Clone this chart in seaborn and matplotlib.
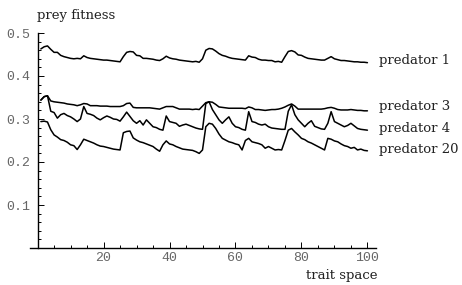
import numpy as np
import pandas as pd
import matplotlib
matplotlib.use("Agg")
import matplotlib.pyplot as plt
from matplotlib.ticker import MultipleLocator
import seaborn as sns

# ---- data ----
trait = list(range(1, 101))

pred1 = [0.463, 0.468, 0.470, 0.462, 0.455, 0.455, 0.448, 0.445, 0.443, 0.441,
         0.440, 0.441, 0.440, 0.447, 0.443, 0.441, 0.440, 0.439, 0.438, 0.437,
         0.437, 0.436, 0.435, 0.434, 0.433, 0.445, 0.455, 0.457, 0.456, 0.448,
         0.447, 0.441, 0.441, 0.440, 0.439, 0.437, 0.436, 0.440, 0.446, 0.442,
         0.440, 0.439, 0.437, 0.436, 0.435, 0.434, 0.433, 0.434, 0.432, 0.440,
         0.460, 0.464, 0.463, 0.458, 0.452, 0.448, 0.446, 0.443, 0.441, 0.440,
         0.439, 0.438, 0.437, 0.447, 0.444, 0.443, 0.439, 0.437, 0.437, 0.436,
         0.436, 0.433, 0.434, 0.432, 0.445, 0.457, 0.459, 0.456, 0.449, 0.448,
         0.444, 0.441, 0.440, 0.439, 0.438, 0.437, 0.437, 0.441, 0.445, 0.440,
         0.438, 0.436, 0.436, 0.435, 0.434, 0.433, 0.433, 0.432, 0.432, 0.431]

pred3 = [0.344, 0.352, 0.354, 0.342, 0.340, 0.339, 0.338, 0.337, 0.335, 0.334,
         0.333, 0.331, 0.333, 0.336, 0.335, 0.331, 0.331, 0.331, 0.330, 0.330,
         0.330, 0.329, 0.329, 0.329, 0.329, 0.331, 0.336, 0.337, 0.327, 0.326,
         0.326, 0.326, 0.326, 0.326, 0.325, 0.324, 0.323, 0.326, 0.329, 0.329,
         0.329, 0.326, 0.323, 0.323, 0.323, 0.323, 0.322, 0.323, 0.322, 0.330,
         0.338, 0.340, 0.339, 0.334, 0.328, 0.327, 0.326, 0.325, 0.325, 0.325,
         0.325, 0.325, 0.324, 0.328, 0.326, 0.322, 0.322, 0.321, 0.320, 0.321,
         0.322, 0.322, 0.323, 0.325, 0.328, 0.332, 0.335, 0.330, 0.323, 0.323,
         0.323, 0.323, 0.323, 0.323, 0.323, 0.323, 0.324, 0.326, 0.327, 0.325,
         0.322, 0.321, 0.321, 0.321, 0.322, 0.321, 0.320, 0.320, 0.319, 0.319]

pred4 = [0.344, 0.352, 0.354, 0.318, 0.315, 0.302, 0.310, 0.313, 0.308, 0.305,
         0.300, 0.294, 0.300, 0.329, 0.313, 0.311, 0.308, 0.302, 0.298, 0.303,
         0.307, 0.304, 0.300, 0.299, 0.295, 0.305, 0.316, 0.306, 0.296, 0.290,
         0.296, 0.286, 0.298, 0.290, 0.282, 0.280, 0.276, 0.274, 0.307, 0.294,
         0.292, 0.290, 0.283, 0.286, 0.288, 0.285, 0.282, 0.279, 0.277, 0.276,
         0.336, 0.340, 0.322, 0.310, 0.298, 0.290, 0.298, 0.305, 0.290, 0.282,
         0.280, 0.276, 0.274, 0.317, 0.294, 0.292, 0.288, 0.286, 0.288, 0.282,
         0.279, 0.278, 0.277, 0.276, 0.276, 0.318, 0.333, 0.310, 0.298, 0.290,
         0.282, 0.290, 0.296, 0.283, 0.280, 0.277, 0.276, 0.290, 0.317, 0.294,
         0.290, 0.286, 0.282, 0.285, 0.290, 0.284, 0.278, 0.276, 0.275, 0.274]

pred20 = [0.294, 0.295, 0.293, 0.275, 0.263, 0.258, 0.252, 0.250, 0.246, 0.240,
          0.238, 0.229, 0.240, 0.253, 0.250, 0.247, 0.244, 0.240, 0.237, 0.236,
          0.234, 0.232, 0.230, 0.229, 0.228, 0.268, 0.271, 0.272, 0.256, 0.251,
          0.247, 0.245, 0.242, 0.239, 0.236, 0.230, 0.225, 0.240, 0.249, 0.242,
          0.240, 0.236, 0.233, 0.230, 0.229, 0.228, 0.227, 0.224, 0.220, 0.228,
          0.282, 0.290, 0.288, 0.278, 0.265, 0.255, 0.251, 0.247, 0.245, 0.242,
          0.240, 0.228, 0.250, 0.255, 0.247, 0.245, 0.243, 0.240, 0.232, 0.236,
          0.232, 0.228, 0.229, 0.228, 0.250, 0.274, 0.278, 0.270, 0.263, 0.255,
          0.252, 0.247, 0.244, 0.240, 0.236, 0.232, 0.228, 0.255, 0.253, 0.249,
          0.247, 0.242, 0.238, 0.236, 0.232, 0.234, 0.228, 0.230, 0.227, 0.226]

series_names = ["predator 1", "predator 3", "predator 4", "predator 20"]
label_offsets = [0.004, 0.009, 0.003, 0.002]

sns.set_style("white")
plt.rcParams["font.family"] = ["DejaVu Serif"]

df = pd.concat([
    pd.DataFrame({"trait": trait, "fitness": vals, "series": name})
    for name, vals in zip(series_names, [pred1, pred3, pred4, pred20])
])

fig = plt.figure(figsize=(4.62, 2.85), dpi=100)
ax = fig.add_axes([30 / 462, 37 / 285, 346 / 462, 215 / 285])

sns.lineplot(data=df, x="trait", y="fitness", hue="series",
             palette=["black"] * 4, linewidth=1.1, legend=False, ax=ax)

ax.set_xlim(-2.3, 102.6)
ax.set_ylim(0, 0.5)
ax.set_xlabel("")
ax.set_ylabel("")

for s in ["top", "right"]:
    ax.spines[s].set_visible(False)
ax.spines["left"].set_position(("data", 0))
ax.spines["left"].set_bounds(0, 0.5)
for s in ["left", "bottom"]:
    ax.spines[s].set_linewidth(1.0)
    ax.spines[s].set_color("black")

ax.xaxis.set_minor_locator(MultipleLocator(5))
ax.yaxis.set_minor_locator(MultipleLocator(0.02))
ax.set_xticks([20, 40, 60, 80, 100])
ax.set_yticks([0.1, 0.2, 0.3, 0.4, 0.5])
ax.set_yticklabels(["0.1", "0.2", "0.3", "0.4", "0.5"])

ax.tick_params(which="both", direction="in", color="black", width=0.7,
               bottom=True, left=True)
ax.tick_params(which="major", length=4)
ax.tick_params(which="minor", length=2)
ax.tick_params(axis="x", pad=3)
ax.tick_params(axis="y", pad=5)
for lab in ax.get_xticklabels() + ax.get_yticklabels():
    lab.set_family(["Liberation Mono", "DejaVu Sans Mono"])
    lab.set_fontsize(9.5)
    lab.set_color("#666666")

for name, vals, off in zip(series_names, [pred1, pred3, pred4, pred20], label_offsets):
    ax.text(103.5, vals[-1] + off, name, fontsize=9.5, va="center", ha="left",
            color="#222222", clip_on=False)

fig.text(37 / 462, 1 - 15 / 285, "prey fitness", fontsize=9.5, va="center",
         ha="left", color="#222222")
fig.text(377 / 462, 1 - 275 / 285, "trait space", fontsize=9.5, va="center",
         ha="right", color="#222222")

fig.savefig("out.png", dpi=100)
